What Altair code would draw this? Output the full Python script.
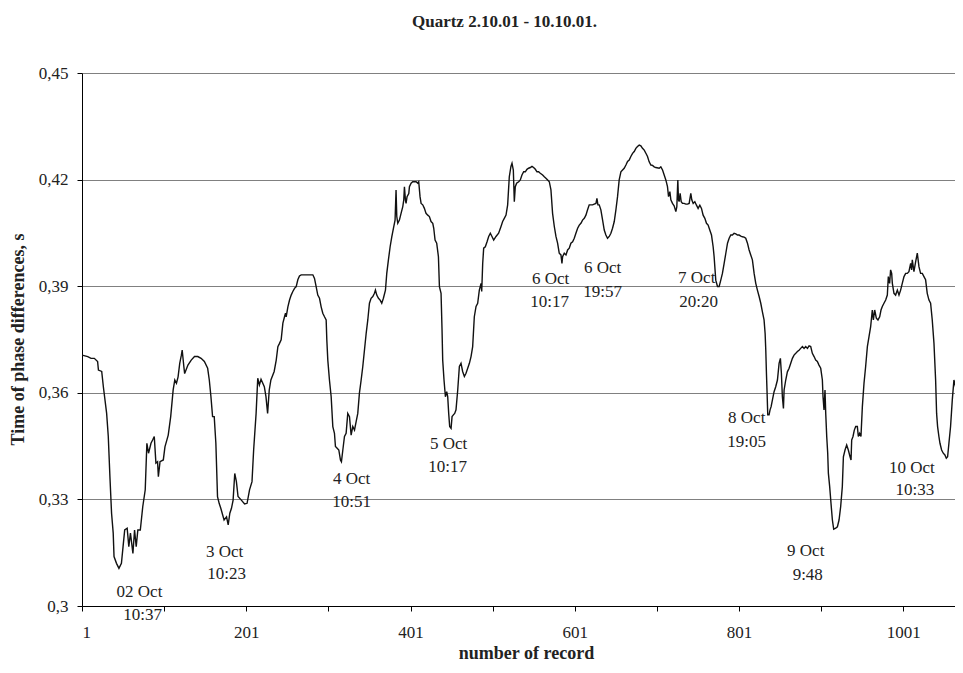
import altair as alt
import pandas as pd

# ---- line data: (record number, time of phase difference, s) ----
seg_oct2 = [(1,0.3706),(8,0.3702),(12,0.3697),(16,0.3697),(20,0.3688),(21,0.3664),(25,0.3660),(27,0.3617),
 (31,0.3542),(33,0.3477),(35,0.3364),(37,0.3261),(39,0.3205),(40,0.3139),(43,0.3120),(46,0.3106),(49,0.3120),
 (51,0.3167),(53,0.3214),(56,0.3219),(58,0.3167),(60,0.3205),(63,0.3148),(65,0.3214),(67,0.3167),(69,0.3214),
 (72,0.3214),(75,0.3280),(78,0.3327),(80,0.3458),(82,0.3430),(85,0.3458),(87,0.3467),(89,0.3477),(91,0.3402),
 (93,0.3406),(94,0.3364),(96,0.3406),(100,0.3411),(102,0.3448),(106,0.3481),(109,0.3533),(112,0.3608),
 (114,0.3636),(116,0.3627),(118,0.3645),(120,0.3683),(122,0.3706),(123,0.3720),(125,0.3674),(126,0.3654),
 (130,0.3678),(134,0.3692),(138,0.3702),(142,0.3702),(146,0.3697),(150,0.3688),(154,0.3669),(156,0.3636),
 (158,0.3589),(160,0.3533),(162,0.3533),(164,0.3458),(166,0.3308),(168,0.3289),(170,0.3275),(174,0.3242),
 (177,0.3251),(179,0.3228),(181,0.3261),(183,0.3275),(185,0.3298),(187,0.3373),(189,0.3350),(191,0.3308),
 (195,0.3298),(199,0.3287),(202,0.3289),(205,0.3327),(208,0.3350),(210,0.3439),(213,0.3542),(215,0.3641),
 (217,0.3622),(219,0.3638),(223,0.3617),(225,0.3589),(227,0.3542),(229,0.3608),(231,0.3636),(235,0.3660)]

seg_oct3 = [(237.5,0.3692),(239.5,0.3730),(241.5,0.3739),(243.5,0.3749),(245.6,0.3796),(247.6,0.3814),
 (248.8,0.3824),(249.6,0.3814),(251.7,0.3842),(253.7,0.3861),(255.7,0.3875),(257.7,0.3885),(259.8,0.3894),
 (261.8,0.3899),(263.8,0.3918),(265.8,0.3929),(267.9,0.3932),(274,0.3932),(278,0.3932),(282.1,0.3932),
 (284.1,0.3922),(286.1,0.3899),(288.1,0.3875),(290.2,0.3866),(292.2,0.3842),(294.2,0.3824),(296.3,0.3814),
 (298.3,0.3805),(299.1,0.3749),(300.3,0.3692),(302.3,0.3636),(304.4,0.3589),(306.4,0.3505),(308.4,0.3486),
 (309.6,0.3449),(311.7,0.3444),(313.7,0.3439),(315.7,0.3411),(316.9,0.3406),(318.6,0.3439),(320.6,0.3477),
 (322.6,0.3486),(324.6,0.3542),(326.7,0.3533),(328.7,0.3481),(330.7,0.3505),(332.8,0.3495),(334.8,0.3519),
 (336.8,0.3542),(338.8,0.3599),(340.9,0.3636),(342.9,0.3674),(347,0.3767),(349,0.3805),(351,0.3852),
 (353,0.3866),(355.1,0.3871),(357.1,0.3880),(358.3,0.3889),(359.9,0.3875),(362,0.3866),(364,0.3861),
 (366,0.3852),(368,0.3866),(370.5,0.3889),(372.1,0.3936),(374.1,0.3974),(376.2,0.4011),(378.2,0.4039),
 (380.2,0.4063),(382.2,0.4086),(383.4,0.4171),(384.3,0.4096),(385.5,0.4077),(387.5,0.4086),(389.5,0.4105),
 (391.6,0.4124),(392.8,0.4143),(393.6,0.4180),(394.8,0.4143),(395.6,0.4133),(396.8,0.4152),(398.9,0.4161),
 (399.7,0.4180),(401.7,0.4190),(403.7,0.4194),(407.8,0.4194),(409.8,0.4190),(411,0.4194),(412.6,0.4152),
 (413.9,0.4133),(415.9,0.4129),(417.9,0.4119),(419.9,0.4105),(422,0.4100),(424,0.4096),(426,0.4082),
 (428.1,0.4077),(429.3,0.4063),(430.9,0.4030),(432.9,0.4021),(435,0.3983),(436.2,0.3899),(438.2,0.3880),
 (439.4,0.3777),(440.2,0.3692),(441.8,0.3636),(443.5,0.3589),(445.1,0.3603),(446.3,0.3589),(447.5,0.3542),
 (448.7,0.3505),(450.4,0.3500),(451.6,0.3533),(453.2,0.3538),(454.8,0.3542),(456.4,0.3552),(458.5,0.3608),
 (460.5,0.3674),(462.5,0.3683),(464.5,0.3660),(466.6,0.3646),(468.6,0.3655),(472.7,0.3683)]

seg_oct5 = [(474.7,0.3702),(476.7,0.3730),(478.7,0.3814),(480.8,0.3843),(482.8,0.3852),(484.8,0.3889),
 (486.9,0.3908),(487.7,0.3885),(488.9,0.3964),(490.1,0.4007),(492.1,0.4011),(494.2,0.4025),(496.2,0.4040),
 (498.2,0.4049),(500.2,0.4040),(502.3,0.4030),(505.1,0.4040),(508.3,0.4049),(511.2,0.4068),(513.2,0.4082),
 (515.2,0.4091),(517.3,0.4100),(519.3,0.4129),(521.3,0.4208),(523.3,0.4237),(524.6,0.4246),(526.2,0.4227),
 (527.4,0.4138),(528.6,0.4180),(530.2,0.4190),(532.7,0.4194),(534.7,0.4199),(536.7,0.4213),(538.8,0.4222),
 (540.8,0.4222),(542.8,0.4229),(544.8,0.4232),(546.9,0.4234),(548.9,0.4237),(550.9,0.4234),(553,0.4229),
 (555,0.4222),(557,0.4222),(559,0.4218),(561.9,0.4213),(563.9,0.4208),(565.9,0.4204),(568,0.4199),
 (570,0.4194),(572,0.4171),(574,0.4105),(576.1,0.4068),(578.1,0.4040),(580.1,0.4021),(582.1,0.3993),
 (584.2,0.3988),(585.4,0.3964),(586.2,0.3983),(588.2,0.3993),(590.3,0.3988),(592.3,0.4002),(594.3,0.4007),
 (596.3,0.4021),(598.4,0.4025),(600.4,0.4035),(602.4,0.4049),(604.5,0.4063),(606.5,0.4072),(608.5,0.4077),
 (610.5,0.4086),(612.6,0.4091),(614.6,0.4100),(616.6,0.4115),(618.6,0.4129),(620.7,0.4129),(622.7,0.4129),
 (624.7,0.4131),(626.8,0.4133),(628,0.4147),(629.2,0.4129),(630.8,0.4129),(632.8,0.4115),(634.9,0.4086),
 (636.9,0.4058),(638.9,0.4044),(640.9,0.4035),(643,0.4040),(645,0.4049),(647,0.4063),(649.1,0.4082),
 (651.1,0.4115),(653.1,0.4152),(655.1,0.4199),(657.2,0.4222),(659.2,0.4227),(661.2,0.4232),(663.3,0.4241),
 (665.3,0.4251),(667.3,0.4255),(669.3,0.4265),(671.4,0.4274),(673.4,0.4279),(675.4,0.4288),(677.4,0.4293),
 (679.5,0.4297),(681.5,0.4295),(683.5,0.4288),(685.6,0.4283),(687.6,0.4274),(689.6,0.4265),(691.6,0.4250),
 (693.7,0.4241),(695.7,0.4240),(697.7,0.4236),(699.7,0.4234),(703.8,0.4232)]

seg_oct7 = [(705.8,0.4236),(707.9,0.4227),(709.9,0.4213),(711.9,0.4199),(713.9,0.4180),(715.2,0.4152),
 (716.8,0.4166),(718,0.4143),(720,0.4133),(722,0.4126),(724.1,0.4110),(725.3,0.4124),(726.5,0.4199),
 (727.3,0.4143),(728.1,0.4138),(729.3,0.4161),(730.6,0.4138),(732.2,0.4133),(734.2,0.4133),(736.2,0.4131),
 (738.3,0.4131),(740.3,0.4133),(742.3,0.4161),(743.5,0.4143),(745.2,0.4133),(747.2,0.4138),(749.2,0.4128),
 (751.2,0.4119),(753.3,0.4128),(755.3,0.4119),(757.3,0.4100),(759.4,0.4091),(761.4,0.4077),(763.4,0.4072),
 (765.4,0.4058),(767.5,0.4044),(769.5,0.4011),(770.7,0.3983),(772.7,0.3917),(774.8,0.3899),(776.8,0.3899),
 (778.8,0.3917),(780.8,0.3936),(782.9,0.3964),(784.9,0.3992),(787,0.4021),(789,0.4035),(791,0.4044),
 (793,0.4044),(795,0.4049),(797.1,0.4047),(799.1,0.4044),(801.1,0.4044),(803.2,0.4041),(805.2,0.4039),
 (807.2,0.4038),(809.2,0.4035),(811.3,0.4021),(813.3,0.4002),(815.3,0.3988),(817.3,0.3974),(819.4,0.3936),
 (821.4,0.3908),(823.4,0.3889),(825.5,0.3871),(827.5,0.3852),(829.5,0.3828),(831.5,0.3805),(832.8,0.3767),
 (833.6,0.3720),(834.4,0.3655),(835.2,0.3599),(836,0.3538),(837.6,0.3538),(838.8,0.3552),(840.1,0.3561),
 (841.7,0.3580),(843.7,0.3603),(845.7,0.3617),(847.8,0.3636),(849.8,0.3683),(851.4,0.3697),(852.6,0.3655),
 (853.8,0.3589),(855.1,0.3556),(855.9,0.3608),(857.9,0.3636),(859.9,0.3659),(862,0.3669),(864,0.3683),
 (866,0.3697),(868,0.3706),(870.1,0.3711),(872.1,0.3716),(874.1,0.3720),(876.1,0.3725),(878.2,0.3730),
 (880.2,0.3725),(882.2,0.3730),(884.3,0.3725),(886.3,0.3732),(888.3,0.3730),(890.3,0.3711),(892.4,0.3702),
 (894.4,0.3692),(896.4,0.3688),(898.4,0.3678),(900.5,0.3669),(902.5,0.3636),(903.3,0.3589),(904.5,0.3552),
 (905.7,0.3608),(906.6,0.3542),(907.8,0.3477),(909,0.3430)]

seg_oct9 = [(909.8,0.3374),(911.4,0.3336),(913,0.3289),(914.7,0.3242),(916.3,0.3216),(918.7,0.3219),
 (920.8,0.3223),(922.8,0.3242),(924.8,0.3280),(926.8,0.3336),(928.1,0.3420),(930.1,0.3439),(932.1,0.3453),
 (934.1,0.3439),(936.2,0.3420),(937.4,0.3411),(938.2,0.3467),(939.8,0.3477),(941.4,0.3495),(943.1,0.3505),
 (945.1,0.3505),(946.3,0.3477),(947.9,0.3486),(949.5,0.3477),(951.2,0.3561),(953.2,0.3627),(955.2,0.3674),
 (957.3,0.3730),(959.3,0.3758),(961.3,0.3786),(963.3,0.3833),(964.6,0.3805),(966.2,0.3833),(968.2,0.3810),
 (970.2,0.3805),(972.3,0.3814),(973.9,0.3833),(975.5,0.3843),(977.5,0.3852),(979.6,0.3861),(981.6,0.3875),
 (982.8,0.3927),(984.4,0.3908),(985.6,0.3946),(986.9,0.3936),(987.7,0.3908),(989.7,0.3880),(991.7,0.3875),
 (993.8,0.3889),(995.8,0.3875),(997.8,0.3889),(999.8,0.3908),(1001.9,0.3927),(1003.9,0.3936),(1005.9,0.3936),
 (1007.9,0.3941),(1010,0.3964),(1011.2,0.3946),(1012,0.3974),(1014,0.3941),(1016.1,0.3969),(1018.1,0.3993),
 (1020.1,0.3955),(1022.1,0.3936),(1024.2,0.3936),(1026.2,0.3927),(1028.2,0.3918),(1030.2,0.3880),
 (1032.3,0.3861),(1034.3,0.3852),(1036.3,0.3805),(1038.4,0.3739),(1040.4,0.3636),(1041.6,0.3542),
 (1042.8,0.3505),(1044.4,0.3477),(1045.7,0.3458),(1047.7,0.3439),(1049.7,0.3430),(1051.7,0.3425),
 (1053.4,0.3416),(1055,0.3420),(1056.6,0.3458),(1058.6,0.3505),(1060.7,0.3580),(1062.7,0.3636),
 (1064.7,0.3617),(1066.7,0.3580),(1068.8,0.3561),(1070.8,0.3542),(1072.4,0.3552)]

# ---- annotations (date / time of each extreme) ----
ann_text = ["02 Oct", "10:37", "3 Oct", "10:23", "4 Oct", "10:51", "5 Oct", "10:17", "6 Oct", "10:17",
            "6 Oct", "19:57", "7 Oct", "20:20", "8 Oct", "19:05", "9 Oct", "9:48", "10 Oct", "10:33"]
ann_rec = [71.0, 74.7, 174.6, 177.0, 329.3, 329.3, 447.4, 446.2, 571.6, 570.4,
           635.0, 635.0, 749.5, 751.9, 810.4, 810.4, 882.2, 884.7, 1011.4, 1015.1]
ann_val = [0.3039, 0.2975, 0.3152, 0.3090, 0.3357, 0.3293, 0.3456, 0.3391, 0.3920, 0.3856,
           0.3951, 0.3884, 0.3923, 0.3856, 0.3529, 0.3462, 0.3155, 0.3087, 0.3388, 0.3326]

y_ticks = [0.3, 0.33, 0.36, 0.39, 0.42, 0.45]
x_ticks = [1, 101, 201, 301, 401, 501, 601, 701, 801, 901, 1001]

points = seg_oct2 + seg_oct3 + seg_oct5 + seg_oct7 + seg_oct9
df = pd.DataFrame(points, columns=["record", "value"])
ann = pd.DataFrame({"label": ann_text, "record": ann_rec, "value": ann_val})

FONT = "Liberation Serif"
xs = alt.Scale(domain=[1, 1064], nice=False, zero=False)
ys = alt.Scale(domain=[0.3, 0.45], nice=False, zero=False)

line = alt.Chart(df).mark_line(color="#111111", strokeWidth=1.4, clip=True).encode(
    x=alt.X("record:Q", scale=xs, axis=alt.Axis(
        values=x_ticks, format="d",
        labelExpr="(datum.value - 1) % 200 == 0 ? datum.label : ''",
        grid=False, tickSize=5, tickColor="#000000", domainColor="#000000",
        labelPadding=13, labelFontSize=17,
        title="number of record", titleFontSize=18, titleFontWeight="bold",
        titleX=444, titleY=52, titleBaseline="alphabetic", titleAlign="center")),
    y=alt.Y("value:Q", scale=ys, axis=alt.Axis(
        values=y_ticks, format=".2~f",
        labelExpr="replace(datum.label, '.', ',')",
        grid=True, gridColor="#808080", gridWidth=1,
        tickSize=5, tickColor="#000000", domainColor="#000000",
        labelPadding=9, labelFontSize=17,
        title="Time of phase differences, s", titleFontSize=18, titleFontWeight="bold",
        titleAngle=270, titleX=-64, titleY=266, titleBaseline="middle", titleAlign="center")),
)

labels = alt.Chart(ann).mark_text(font=FONT, fontSize=17, color="#222222",
                                  align="center", baseline="middle").encode(
    x=alt.X("record:Q", scale=xs),
    y=alt.Y("value:Q", scale=ys),
    text="label:N",
)

chart = alt.layer(line, labels).properties(
    width=873, height=533,
    autosize=alt.AutoSizeParams(type="none"),
    padding={"left": 74, "top": 65, "right": 0, "bottom": 59},
    title=alt.Title("Quartz 2.10.01 - 10.10.01.", font=FONT, fontSize=17, fontWeight="bold",
                    color="#222222", anchor="middle", frame="group", offset=33, dx=-14),
).configure_view(stroke=None).configure_axis(
    labelFont=FONT, titleFont=FONT, labelColor="#222222", titleColor="#222222", domainWidth=1, tickWidth=1
)

chart.save("out.html", embed_options={"renderer": "svg", "actions": False})
